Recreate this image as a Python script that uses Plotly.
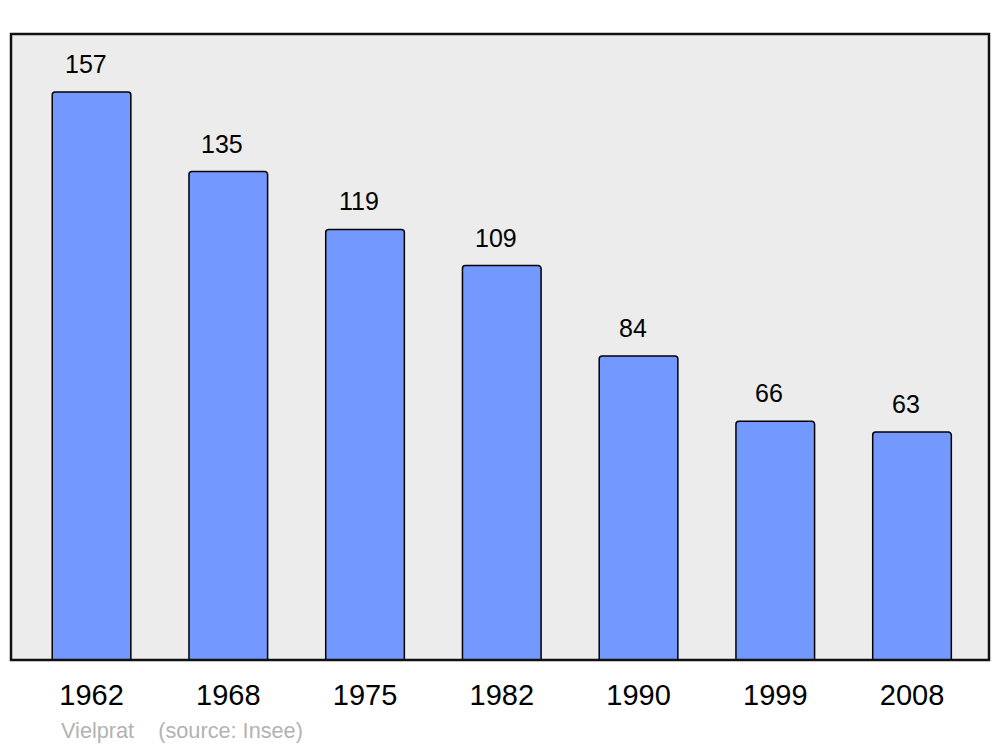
import plotly.graph_objects as go

years = ["1962", "1968", "1975", "1982", "1990", "1999", "2008"]
population = [157, 135, 119, 109, 84, 66, 63]
source_text = "Vielprat    (source: Insee)"

xpos = list(range(len(years)))

# page body has an 8px margin; compensate so the figure fills the 1000x747 window
W, H = 992, 739
ML, MR, MT, MB = 3, 11, 26, 87
plot_w = W - ML - MR
plot_h = H - MT - MB

fig = go.Figure()
fig.add_trace(go.Bar(
    x=xpos, y=population, width=0.575,
    marker=dict(color="#7399ff", line=dict(color="#000000", width=1.5), cornerradius=3),
    hoverinfo="skip",
))

for xi, v in zip(xpos, population):
    fig.add_annotation(x=xi, y=v, text=str(v), showarrow=False, xref="x", yref="y",
                       yanchor="bottom", yshift=12, xshift=-6,
                       font=dict(family="Liberation Sans", size=25, color="#000"))

fig.add_annotation(x=(59 - 11) / plot_w, y=(660 - 730) / plot_h, xref="paper", yref="paper",
                   xanchor="left", yanchor="middle",
                   text=source_text.replace("    ", "&nbsp;&nbsp;&nbsp;&nbsp;"),
                   showarrow=False, font=dict(family="Liberation Sans", size=21.7, color="#b3b3b3"))

fig.add_shape(type="rect", xref="paper", yref="paper", x0=0, x1=1, y0=0, y1=1,
              line=dict(color="#111", width=2.5), layer="above")

fig.update_layout(
    width=W, height=H,
    margin=dict(l=ML, r=MR, t=MT, b=MB),
    paper_bgcolor="white", plot_bgcolor="#ececec",
    showlegend=False,
    xaxis=dict(range=[-0.589, 6.563], tickvals=xpos, ticktext=years, showgrid=False,
               zeroline=False, ticks="", ticklabelstandoff=15,
               tickfont=dict(family="Liberation Sans", size=29, color="#000")),
    yaxis=dict(range=[0, 173], showgrid=False, zeroline=False, showticklabels=False, ticks=""),
)

fig.write_html("out.html")
